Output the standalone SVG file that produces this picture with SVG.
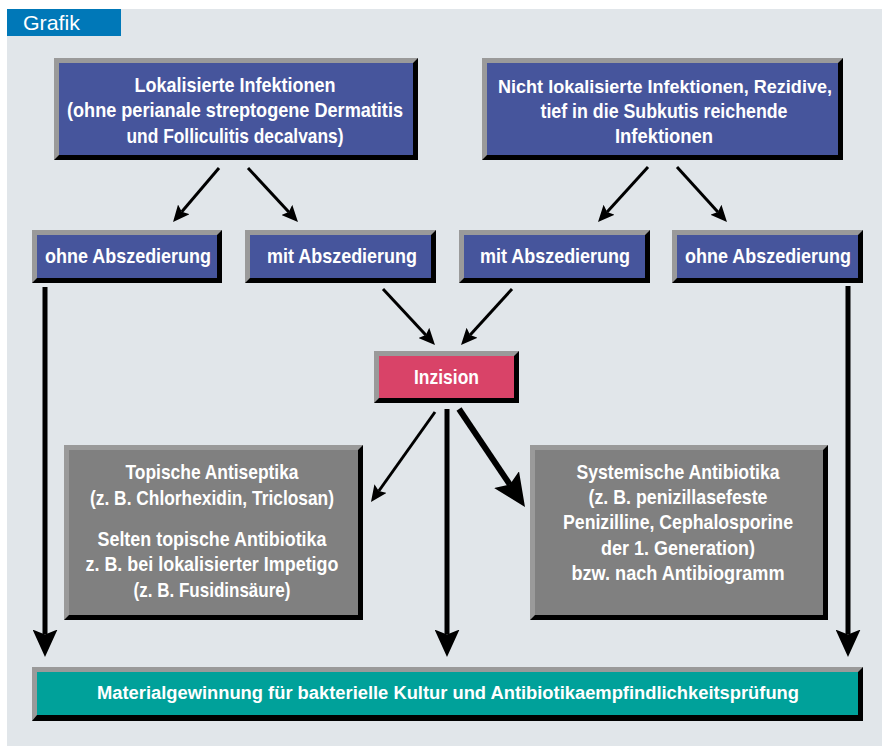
<svg xmlns="http://www.w3.org/2000/svg" width="882" height="746" viewBox="0 0 882 746">
<style>
.bev{fill:#9a9a9a}
.sh{fill:#000}
.blue{fill:#46559c}
.pink{fill:#d94368}
.gray{fill:#808080}
.teal{fill:#00a19a}
.t{font-family:"Liberation Sans Narrow","Liberation Sans",Arial,sans-serif;font-weight:bold;font-size:21px;fill:#fff;text-anchor:middle}
.s{font-size:18px}
.c{stroke:#000;fill:none;stroke-linecap:butt}
</style>
<defs>
<marker id="ah" viewBox="0 0 11 10" refX="2" refY="5" markerWidth="5.5" markerHeight="5" markerUnits="strokeWidth" orient="auto">
<path d="M0,0 L11,5 L0,10 L2,5 z" fill="#000"/>
</marker>
</defs>
<rect x="0" y="0" width="882" height="746" fill="#fff"/>
<rect x="7" y="9" width="875" height="737" fill="#e1e6ea"/>
<g id="tab">
<rect x="7" y="9" width="114" height="27" fill="#0078b8"/>
<text x="23" y="30" font-family="Liberation Sans,Arial,sans-serif" font-size="21" fill="#fff" textLength="57" lengthAdjust="spacingAndGlyphs">Grafik</text>
</g>

<g id="connectors">
<line class="c" stroke-width="3" x1="219" y1="168" x2="181.8" y2="211.7" marker-end="url(#ah)"/>
<line class="c" stroke-width="3" x1="248" y1="168" x2="288.8" y2="212.1" marker-end="url(#ah)"/>
<line class="c" stroke-width="3" x1="648" y1="167" x2="607.1" y2="212" marker-end="url(#ah)"/>
<line class="c" stroke-width="3" x1="677" y1="167" x2="717.9" y2="212" marker-end="url(#ah)"/>
<line class="c" stroke-width="3" x1="383" y1="289" x2="425.8" y2="335.1" marker-end="url(#ah)"/>
<line class="c" stroke-width="3" x1="512" y1="289" x2="470.1" y2="335" marker-end="url(#ah)"/>
<line class="c" stroke-width="3" x1="435" y1="412" x2="378.8" y2="491" marker-end="url(#ah)"/>
<line class="c" stroke-width="6" x1="459" y1="409" x2="509.9" y2="484.6" marker-end="url(#ah)"/>
<line class="c" stroke-width="5" x1="447" y1="409" x2="447" y2="634.5" marker-end="url(#ah)"/>
<line class="c" stroke-width="5" x1="45" y1="287" x2="45" y2="634.5" marker-end="url(#ah)"/>
<line class="c" stroke-width="5" x1="848" y1="286" x2="848" y2="634.5" marker-end="url(#ah)"/>
</g>

<g id="box-lokal">
<rect class="bev" x="54" y="58" width="364" height="102"/>
<polygon class="sh" points="418,58 418,160 54,160 59,155 413,155 413,63"/>
<rect class="blue" x="59" y="63" width="354" height="92"/>
<text class="t" x="235" y="92" textLength="201" lengthAdjust="spacingAndGlyphs">Lokalisierte Infektionen</text>
<text class="t" x="235" y="117" textLength="336" lengthAdjust="spacingAndGlyphs">(ohne perianale streptogene Dermatitis</text>
<text class="t" x="235" y="143" textLength="217" lengthAdjust="spacingAndGlyphs">und Folliculitis decalvans)</text>
</g>

<g id="box-nichtlokal">
<rect class="bev" x="482" y="58" width="361" height="102"/>
<polygon class="sh" points="843,58 843,160 482,160 487,155 838,155 838,63"/>
<rect class="blue" x="487" y="63" width="351" height="92"/>
<text class="t s" x="665" y="93" textLength="334" lengthAdjust="spacingAndGlyphs">Nicht lokalisierte Infektionen, Rezidive,</text>
<text class="t" x="664" y="118" textLength="247" lengthAdjust="spacingAndGlyphs">tief in die Subkutis reichende</text>
<text class="t" x="664" y="143" textLength="98" lengthAdjust="spacingAndGlyphs">Infektionen</text>
</g>

<g id="box-ohne-l">
<rect class="bev" x="32" y="230" width="190" height="53"/>
<polygon class="sh" points="222,230 222,283 32,283 37,278 217,278 217,235"/>
<rect class="blue" x="37" y="235" width="180" height="43"/>
<text class="t" x="128" y="263" textLength="166" lengthAdjust="spacingAndGlyphs">ohne Abszedierung</text>
</g>

<g id="box-mit-l">
<rect class="bev" x="245" y="230" width="191" height="53"/>
<polygon class="sh" points="436,230 436,283 245,283 250,278 431,278 431,235"/>
<rect class="blue" x="250" y="235" width="181" height="43"/>
<text class="t" x="342" y="263" textLength="150" lengthAdjust="spacingAndGlyphs">mit Abszedierung</text>
</g>

<g id="box-mit-r">
<rect class="bev" x="459" y="230" width="191" height="53"/>
<polygon class="sh" points="650,230 650,283 459,283 464,278 645,278 645,235"/>
<rect class="blue" x="464" y="235" width="181" height="43"/>
<text class="t" x="555" y="263" textLength="150" lengthAdjust="spacingAndGlyphs">mit Abszedierung</text>
</g>

<g id="box-ohne-r">
<rect class="bev" x="672" y="230" width="191" height="53"/>
<polygon class="sh" points="863,230 863,283 672,283 677,278 858,278 858,235"/>
<rect class="blue" x="677" y="235" width="181" height="43"/>
<text class="t" x="768" y="263" textLength="166" lengthAdjust="spacingAndGlyphs">ohne Abszedierung</text>
</g>

<g id="box-inzision">
<rect class="bev" x="374" y="351" width="145" height="52"/>
<polygon class="sh" points="519,351 519,403 374,403 379,398 514,398 514,356"/>
<rect class="pink" x="379" y="356" width="135" height="42"/>
<text class="t" x="446.5" y="384" textLength="65" lengthAdjust="spacingAndGlyphs">Inzision</text>
</g>

<g id="box-topisch">
<rect class="bev" x="64" y="445" width="299" height="175"/>
<polygon class="sh" points="363,445 363,620 64,620 69,615 358,615 358,450"/>
<rect class="gray" x="69" y="450" width="289" height="165"/>
<text class="t" x="212" y="479" textLength="173" lengthAdjust="spacingAndGlyphs">Topische Antiseptika</text>
<text class="t" x="212" y="505" textLength="244" lengthAdjust="spacingAndGlyphs">(z. B. Chlorhexidin, Triclosan)</text>
<text class="t" x="212" y="546" textLength="229" lengthAdjust="spacingAndGlyphs">Selten topische Antibiotika</text>
<text class="t" x="212" y="571" textLength="253" lengthAdjust="spacingAndGlyphs">z. B. bei lokalisierter Impetigo</text>
<text class="t" x="212" y="597" textLength="157" lengthAdjust="spacingAndGlyphs">(z. B. Fusidinsäure)</text>
</g>

<g id="box-systemisch">
<rect class="bev" x="530" y="445" width="298" height="175"/>
<polygon class="sh" points="828,445 828,620 530,620 535,615 823,615 823,450"/>
<rect class="gray" x="535" y="450" width="288" height="165"/>
<text class="t" x="678" y="479" textLength="203" lengthAdjust="spacingAndGlyphs">Systemische Antibiotika</text>
<text class="t" x="678" y="504" textLength="179" lengthAdjust="spacingAndGlyphs">(z. B. penizillasefeste</text>
<text class="t" x="678" y="529" textLength="230" lengthAdjust="spacingAndGlyphs">Penizilline, Cephalosporine</text>
<text class="t" x="678" y="555" textLength="154" lengthAdjust="spacingAndGlyphs">der 1. Generation)</text>
<text class="t" x="678" y="580" textLength="213" lengthAdjust="spacingAndGlyphs">bzw. nach Antibiogramm</text>
</g>

<g id="box-material">
<rect class="bev" x="32" y="667" width="831" height="54"/>
<polygon class="sh" points="863,667 863,721 32,721 37,715 858,715 858,672"/>
<rect class="teal" x="37" y="672" width="821" height="43"/>
<text class="t s" x="448" y="699" textLength="702" lengthAdjust="spacingAndGlyphs">Materialgewinnung für bakterielle Kultur und Antibiotikaempfindlichkeitsprüfung</text>
</g>
</svg>
